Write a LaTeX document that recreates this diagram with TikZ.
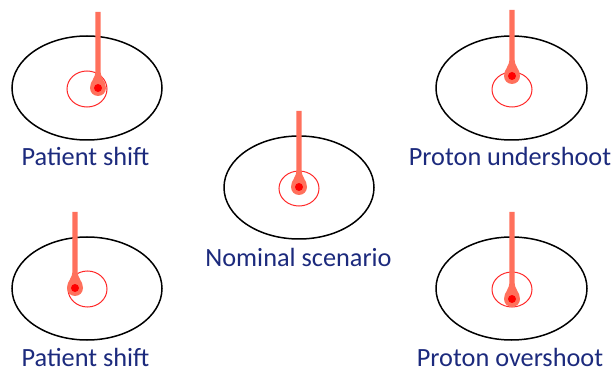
\documentclass[tikz,border=0pt]{standalone}
\usepackage{fontspec}
\setmainfont{Carlito}
\definecolor{beam}{RGB}{255,112,92}
\definecolor{spot}{RGB}{255,0,0}
\definecolor{ring}{RGB}{255,40,40}
\definecolor{lbl}{RGB}{28,42,125}
\tikzset{
  body/.style={draw=black, line width=1.5pt},
  target/.style={draw=ring, line width=1pt},
  lab/.style={text=lbl, font=\fontsize{26.3}{31}\selectfont, anchor=base, inner sep=0pt},
}
% #1 x, #2 beam top, #3 spot y
\newcommand{\protonbeam}[3]{%
  \fill[beam] (#1-2.6,#2) -- (#1-2.6,#3-17) .. controls (#1-2.6,#3-9) and (#1-8,#3-7) .. (#1-8,#3)
     arc (180:0:8) .. controls (#1+8,#3-7) and (#1+2.6,#3-9) .. (#1+2.6,#3-17) -- (#1+2.6,#2) -- cycle;
  \fill[spot] (#1,#3) circle (4);
}
\begin{document}
\begin{tikzpicture}[x=1pt,y=1pt,yscale=-1]
\useasboundingbox (0,0) rectangle (616,374);
% top-left: patient shift
\draw[body] (87,88) ellipse (75 and 52);
\draw[target] (87,89) ellipse (20 and 18);
\protonbeam{98}{12}{88}
\node[lab] (l1) at (85.5,166) {Patient shift};
% middle: nominal
\draw[body] (299,187.5) ellipse (75 and 51.5);
\draw[target] (299,188.5) ellipse (20 and 17.5);
\protonbeam{299}{111}{187}
\node[lab] (l2) at (298.5,267) {Nominal scenario};
% top-right: undershoot
\draw[body] (511.5,88) ellipse (75.5 and 52);
\draw[target] (512,89.5) ellipse (20 and 17.5);
\protonbeam{512}{10}{76}
\node[lab] (l3) at (510,166) {Proton undershoot};
% bottom-left: patient shift
\draw[body] (87,288.5) ellipse (75 and 51.5);
\draw[target] (87.5,289) ellipse (19.5 and 18);
\protonbeam{75}{212}{288}
\node[lab] (l4) at (85.5,366) {Patient shift};
% bottom-right: overshoot
\draw[body] (511.5,288.5) ellipse (75.5 and 51.5);
\draw[target] (512,289.5) ellipse (20 and 17.5);
\protonbeam{512}{212}{299}
\node[lab] (l5) at (510,366) {Proton overshoot};
\end{tikzpicture}
\end{document}
